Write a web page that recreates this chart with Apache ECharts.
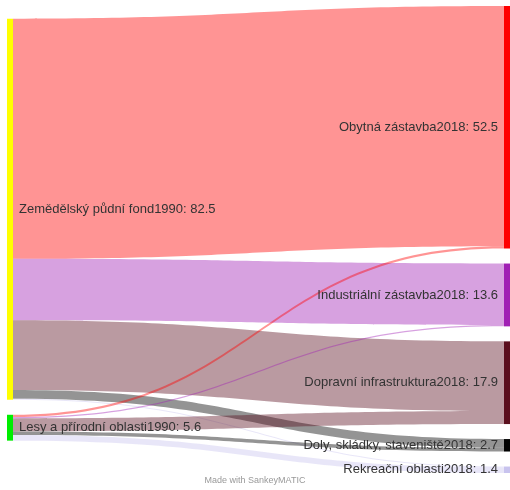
<!DOCTYPE html>
<html lang="cs">
<head>
  <meta charset="UTF-8" />
  <title>Sankey – využití území 1990–2018</title>
  <script src="https://cdn.jsdelivr.net/npm/echarts@6/dist/echarts.min.js"></script>
  <style>
    body { margin: 0; background: #fff; }
    #chart { width: 510px; height: 490px; }
  </style>
</head>
<body>
  <div id="chart"></div>
  <script>
    // zdroje (1990) a cíle (2018)
    const sources = ['Zemědělský půdní fond1990', 'Lesy a přírodní oblasti1990'];
    const sourceColors = ['#ffff00', '#00ee00'];
    const targets = ['Obytná zástavba2018', 'Industriální zástavba2018', 'Dopravní infrastruktura2018',
                     'Doly, skládky, staveniště2018', 'Rekreační oblasti2018'];
    const targetColors = ['#ff0000', '#a020b4', '#5a0f1e', '#000000', '#c8c3ee'];
    // toky z každého zdroje do cílů (ve stejném pořadí jako targets)
    const fromAgri = [52.0, 13.3, 15.1, 1.9, 0.2];
    const fromForest = [0.5, 0.3, 2.8, 0.8, 1.2];

    const flows = [fromAgri, fromForest];
    const sum = arr => arr.reduce((a, b) => a + b, 0);
    const fmt = v => (Math.round(v * 10) / 10).toFixed(1);

    const nodes = [];
    sources.forEach((name, i) => nodes.push({
      name, itemStyle: { color: sourceColors[i] },
      label: { position: 'right' },
      total: sum(flows[i])
    }));
    targets.forEach((name, j) => nodes.push({
      name, itemStyle: { color: targetColors[j] },
      label: { position: 'left' },
      total: sum(flows.map(f => f[j]))
    }));

    const links = [];
    sources.forEach((s, i) => targets.forEach((t, j) => {
      links.push({ source: s, target: t, value: flows[i][j] });
    }));

    const chart = echarts.init(document.getElementById('chart'));
    chart.setOption({
      animation: false,
      graphic: [{
        type: 'text', left: 'center', top: 476,
        style: { text: 'Made with SankeyMATIC', fill: '#999', font: '9px "Liberation Sans", Arial, sans-serif' }
      }],
      series: [{
        type: 'sankey',
        left: 7, right: 0, top: 6, bottom: 17,
        nodeWidth: 6,
        nodeGap: 15,
        nodeAlign: 'justify',
        draggable: false,
        data: nodes,
        links: links,
        itemStyle: { borderWidth: 0 },
        lineStyle: { color: 'target', opacity: 0.42, curveness: 0.5 },
        emphasis: { disabled: true },
        label: {
          color: '#333',
          fontSize: 13,
          fontFamily: '"Liberation Sans", Arial, sans-serif',
          distance: 6,
          formatter: p => p.name + ': ' + fmt(p.data.total)
        }
      }]
    });
  </script>
</body>
</html>
